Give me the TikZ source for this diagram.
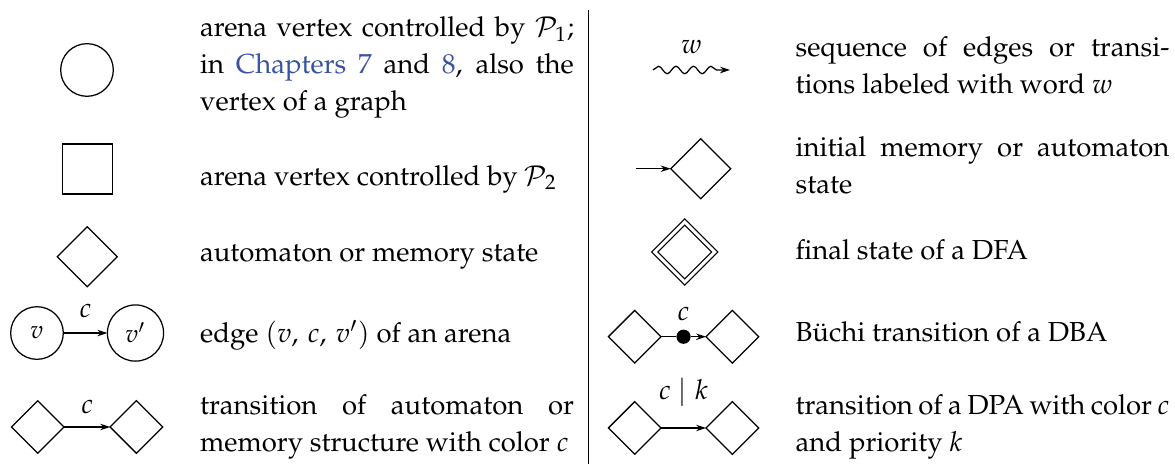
\documentclass[tikz,border=0pt]{standalone}
\usepackage[T1]{fontenc}
\usepackage{mathpazo}
\usepackage{xcolor}
\usetikzlibrary{shapes.geometric, arrows.meta, positioning, calc, decorations.pathmorphing}
\definecolor{linkblue}{RGB}{56, 84, 160}

\begin{document}
\begin{tikzpicture}[
    line width=0.5pt,
    pvertex/.style={circle, draw, minimum size=0.74cm, inner sep=0pt, outer sep=0pt},
    qvertex/.style={rectangle, draw, minimum size=0.70cm, inner sep=0pt, outer sep=0pt},
    mstate/.style={diamond, draw, minimum size=0.844cm, inner sep=0pt, outer sep=0pt},
    tstate/.style={diamond, draw, minimum size=0.74cm, inner sep=0pt, outer sep=0pt},
    finalstate/.style={mstate, double, double distance=1.2pt},
    dot/.style={circle, fill, minimum size=0.2cm, inner sep=0pt, outer sep=0pt},
    arrow/.style={-{Stealth[length=4pt, width=2.6pt]}},
    wavy/.style={-{Stealth[length=4pt, width=2.6pt]}, decorate, decoration={snake, amplitude=1.5pt, segment length=7pt, post length=3pt}},
    lbl/.style={font=\fontsize{11}{13}\selectfont},
    desc/.style={anchor=base west, text width=149.5pt, align=justify, inner sep=0pt, font=\fontsize{11}{14.7}\selectfont}
]
    \useasboundingbox (0,0) rectangle (16.519,-6.523);

    % Left column
    \node[pvertex] (p1) at (1.223,-0.984) {};
    \node[desc] (t1) at (2.805,-0.516) {arena vertex controlled by $\mathcal{P}_1$;\linebreak in {\color{linkblue}Chapters 7} and {\color{linkblue}8}, also the\linebreak vertex of a graph};

    \node[qvertex] (p2) at (1.230,-2.376) {};
    \node[desc] (t2) at (2.805,-2.601) {arena vertex controlled by $\mathcal{P}_2$};

    \node[mstate] (m) at (1.227,-3.609) {};
    \node[desc] (t3) at (2.805,-3.679) {automaton or memory state};

    \node[pvertex] (v) at (0.520,-4.682) {$v$};
    \node[pvertex, minimum size=0.79cm, right=0.62cm of v] (vp) {$v'$};
    \draw[arrow] (v) -- node[lbl, above=2.4pt] {$c$} (vp);
    \node[desc] (t4) at (2.805,-4.818) {edge $(v,\,c,\,v')$ of an arena};

    \node[tstate] (m1) at (0.531,-6.003) {};
    \node[tstate, right=0.647cm of m1] (m2) {};
    \draw[arrow] (m1) -- node[lbl, above=1.8pt] {$c$} (m2);
    \node[desc] (t5) at (2.805,-5.834) {transition of automaton or\linebreak memory structure with color $c$};

    \draw (8.271,-0.141) -- (8.271,-6.523);

    % Right column
    \coordinate (ws) at (9.180,-0.984);
    \coordinate (we) at (10.263,-0.984);
    \draw[wavy] (ws) -- node[lbl, above=3pt] {$w$} (we);
    \node[desc] (r1) at (11.177,-0.801) {sequence of edges or transi-\linebreak tions labeled with word $w$};

    \node[mstate] (i) at (9.851,-2.372) {};
    \coordinate[left=0.488cm of i] (iin);
    \draw[arrow] (iin) -- (i);
    \node[desc] (r2) at (11.177,-2.207) {initial memory or automaton\linebreak state};

    \node[finalstate] (f) at (9.626,-3.543) {};
    \node[desc] (r3) at (11.177,-3.655) {final state of a DFA};

    \node[tstate] (b1) at (8.923,-4.734) {};
    \node[tstate, right=0.633cm of b1] (b2) {};
    \node[dot] (bd) at ($(b1.east)!0.5!(b2.west)$) {};
    \draw (b1) -- (bd);
    \draw[arrow] (bd) -- (b2);
    \node[lbl, above=0pt of bd] (bc) {$c$};
    \node[desc] (r4) at (11.177,-4.808) {B\"uchi transition of a DBA};

    \node[tstate] (d1) at (8.923,-6.017) {};
    \node[tstate, right=0.633cm of d1] (d2) {};
    \draw[arrow] (d1) -- node[lbl, above=5pt] {$c \mid k$} (d2);
    \node[desc] (r5) at (11.177,-5.834) {transition of a DPA with color $c$\linebreak and priority $k$};
\end{tikzpicture}
\end{document}
